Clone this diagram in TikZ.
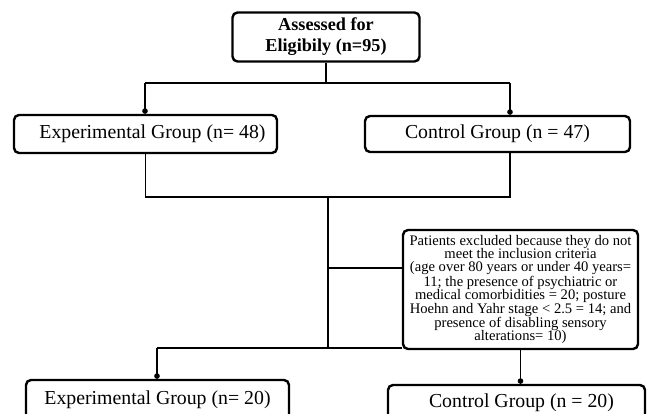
\documentclass[tikz,border=0pt]{standalone}
\usepackage{fontspec}
\setmainfont{Liberation Serif}
\usetikzlibrary{arrows.meta}
\begin{document}
\begin{tikzpicture}[x=1pt,y=-1pt,
  box/.style={draw, line width=2.4pt, rounded corners=5pt, inner sep=0pt, align=center, fill=white},
  grp/.style={box, font=\fontsize{19.8}{22}\selectfont},
  conn/.style={line width=1.2pt},
  dotend/.style={conn, -{Circle[length=5.5pt,width=5.5pt]}}]
\useasboundingbox (0,0) rectangle (654,413);
\clip (0,0) rectangle (654,413);
\node[box, minimum width=187pt, minimum height=49pt, font=\fontsize{18.2}{21}\selectfont\bfseries] (top) at (326,37) {Assessed for\\Eligibily (n=95)};
\node[grp, minimum width=263pt, minimum height=38pt] (exp1) at (145.5,134) {\hspace*{14pt}Experimental Group (n= 48)};
\node[grp, minimum width=265pt, minimum height=36pt] (ctl1) at (497.5,134) {Control Group (n = 47)};
\node[box, minimum width=235pt, minimum height=119pt, font=\fontsize{14.6}{13.4}\selectfont] (excl) at (520.5,289.5) {Patients excluded because they do not\\meet the inclusion criteria\\(age over 80 years or under 40 years=\\11; the presence of psychiatric or\\medical comorbidities = 20; posture\\Hoehn and Yahr stage < 2.5 = 14; and\\presence of disabling sensory\\alterations= 10)};
\node[grp, minimum width=263pt, minimum height=40pt] (exp2) at (157.5,400) {Experimental Group (n= 20)};
\node[grp, minimum width=257pt, minimum height=36pt] (ctl2) at (516.5,403) {\hspace*{10pt}Control Group (n = 20)};
% top split
\coordinate (hL) at (145,83);
\coordinate (hR) at (510,83);
\draw[conn] (top.south) -- (top.south |- hL);
\draw[conn] (hL) -- (hR);
\draw[dotend] (hL) -- (hL |- exp1.north);
\draw[dotend] (hR) -- (hR |- ctl1.north);
% merge
\coordinate (m1) at (145,197);
\coordinate (m2) at (510,197);
\draw[conn] (exp1.south) -- (exp1.south |- m1) -- (m2) -- (m2 |- ctl1.south);
% trunk
\coordinate (t1) at (328,197);
\coordinate (t2) at (328,348);
\coordinate (b1) at (328,268);
\draw[conn] (t1) -- (t2);
\draw[conn] (b1) -- (excl.west |- b1);
% lower split
\coordinate (l1) at (157,348);
\draw[conn] (excl.west |- t2) -- (l1);
\draw[dotend] (l1) -- (l1 |- exp2.north);
\draw[dotend] (excl.south) -- (excl.south |- ctl2.north);
\end{tikzpicture}
\end{document}
